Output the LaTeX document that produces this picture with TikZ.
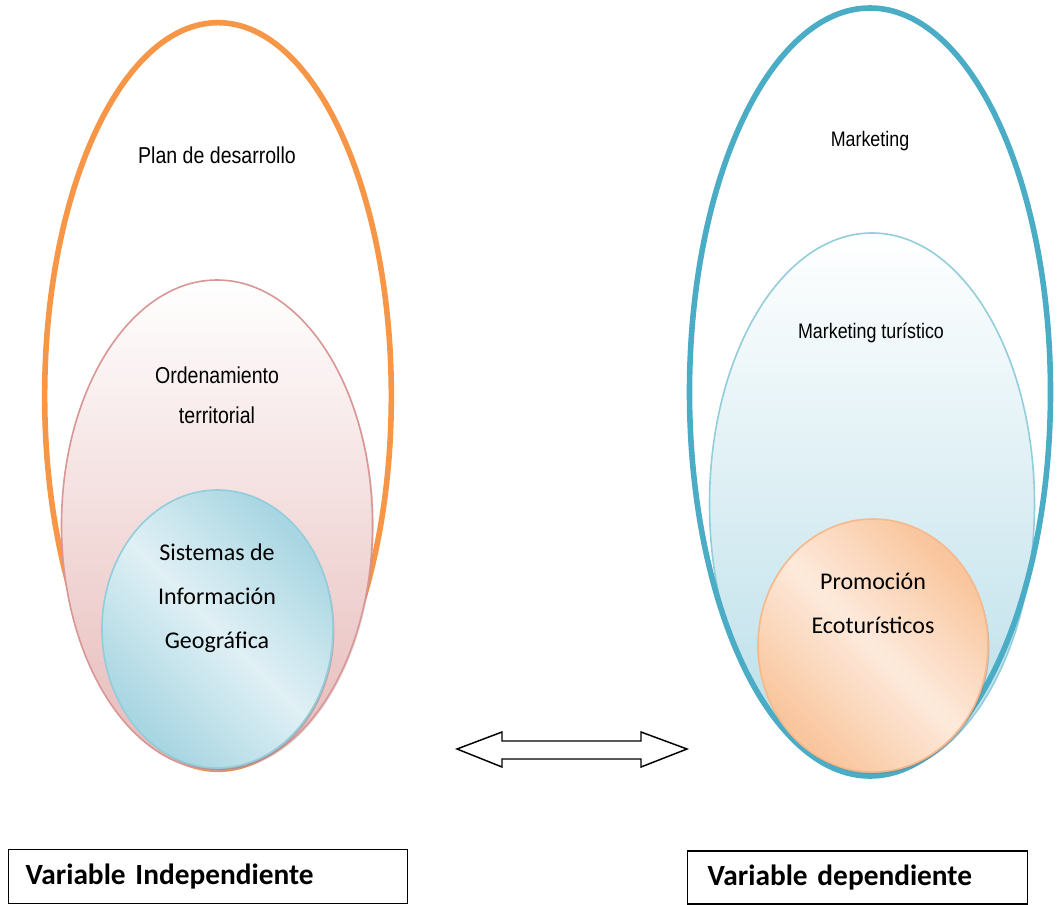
\documentclass[tikz,border=0pt]{standalone}
\usepackage{fontspec}
\setmainfont{Liberation Sans}
\newfontfamily\arialn[FakeStretch=0.85]{Liberation Sans}
\newfontfamily\calib{Carlito}
\usetikzlibrary{positioning,shapes,shadows,backgrounds}

\definecolor{planorange}{HTML}{F79646}
\definecolor{mktblue}{HTML}{4BACC6}
\definecolor{ordline}{HTML}{D99694}
\definecolor{ordfill}{HTML}{E6B9B8}
\definecolor{turline}{HTML}{92CDDC}
\definecolor{turfill}{HTML}{B7DDE8}
\definecolor{sigdark}{HTML}{A8D6E2}
\definecolor{siglight}{HTML}{E0F0F5}
\definecolor{promdark}{HTML}{F9C59C}
\definecolor{promlight}{HTML}{FDEADC}
\definecolor{promline}{HTML}{F8B88A}

\pgfdeclarehorizontalshading{sigsheen}{100bp}{color(0bp)=(sigdark); color(26bp)=(sigdark); color(50bp)=(siglight); color(74bp)=(sigdark); color(100bp)=(sigdark)}
\pgfdeclarehorizontalshading{promsheen}{100bp}{color(0bp)=(promdark); color(26bp)=(promdark); color(50bp)=(promlight); color(74bp)=(promdark); color(100bp)=(promdark)}

\begin{document}
\begin{tikzpicture}[x=0.75pt,y=-0.75pt]
    \tikzstyle{every node}=[inner sep=0]
    \tikzstyle{oval}=[ellipse,draw]
    \tikzstyle{thickoval}=[oval,line width=4.2pt]
    \tikzstyle{thinoval}=[oval,line width=1.2pt]
    \tikzstyle{sheen}=[thinoval,shading angle=45,drop shadow={shadow xshift=1pt,shadow yshift=-1.5pt,opacity=.45}]
    \tikzstyle{note}=[draw=none,align=center,font={\arialn\fontsize{17.25}{30}\selectfont}]
    \tikzstyle{smallnote}=[note,font={\arialn\fontsize{15.75}{30}\selectfont}]
    \tikzstyle{inner}=[note,font={\calib\fontsize{18}{33}\selectfont}]
    \tikzstyle{varbox}=[draw,line width=1pt,rectangle,anchor=west,align=left,inner xsep=12.75pt,font={\calib\bfseries\fontsize{22}{26}\selectfont}]
    \useasboundingbox (0,0) rectangle (1061,904);
    {
        % independiente
        \node[thickoval,draw=planorange,minimum width=260pt,minimum height=560pt] (plan) at (218,396) {};
        \node[thinoval,draw=ordline,top color=white,bottom color=ordfill,minimum width=233.25pt,minimum height=367.5pt,
              drop shadow={shadow xshift=1pt,shadow yshift=-1pt,opacity=.25}] (orden) at (217,525) {};
        \node[sheen,draw=turline,shading=sigsheen,minimum width=173.25pt,minimum height=208.5pt] (sig) at (217.5,629) {};

        \node[note] (plantxt) at (217,155) {Plan de desarrollo};
        \node[note] (ordentxt) at (217,395) {Ordenamiento\\territorial};
        \node[inner] (sigtxt) at (217,598.5) {Sistemas de\\Información\\Geográfica};

        % dependiente
        \node[thinoval,draw=turline,top color=white,bottom color=turfill,minimum width=243.75pt,minimum height=406.5pt] (tur) at (872,504) {};
        \node[thickoval,draw=mktblue,minimum width=270.75pt,minimum height=576pt] (mkt) at (870,392) {};
        \node[sheen,draw=promline,shading=promsheen,minimum width=172.5pt,minimum height=189.75pt] (prom) at (873,645.5) {};

        \node[smallnote] (mkttxt) at (870,141) {Marketing};
        \node[smallnote] (turtxt) at (871,333) {Marketing turístico};
        \node[inner] (promtxt) at (873,603) {Promoción\\Ecoturísticos};

        \draw[line width=1.1pt,fill=white,line join=miter]
            (457,749) -- (502,732) -- (502,741) -- (641,741) -- (641,732) -- (687,749)
            -- (641,767) -- (641,759) -- (502,759) -- (502,767) -- cycle;

        \node[varbox,minimum width=299.25pt,minimum height=40.5pt,text width=273.75pt] (indep) at (8,876.5) {Variable Independiente};
        \node[varbox,minimum width=255pt,minimum height=39.75pt,text width=225pt,inner xsep=15pt] (dep) at (687,877.5) {Variable dependiente};
    }
\end{tikzpicture}
\end{document}
